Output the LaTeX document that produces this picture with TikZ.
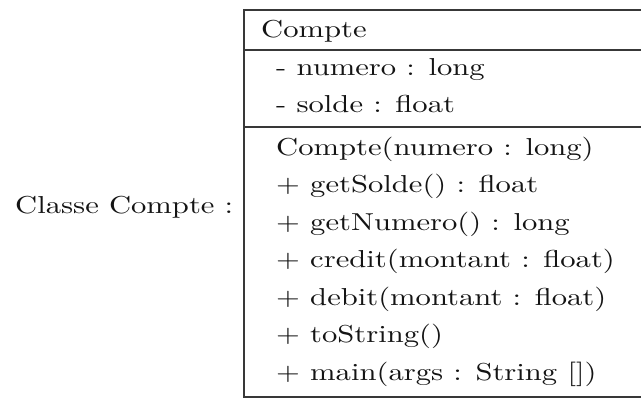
\documentclass[tikz,border=0pt]{standalone}
\usepackage{graphicx}
% Class box of "Compte": header, attributes, methods.
% Text is set in the 10pt design and enlarged (wider than tall).
\newcommand\wide[1]{\scalebox{3.0625}[2.45]{\fontsize{10}{12}\selectfont #1}}
\tikzset{
  rowtext/.style={anchor=base west, inner sep=0pt, text=black!92},
  rule/.style={draw=black!78, line width=1.8pt},
}
\begin{document}
\begin{tikzpicture}[x=1pt, y=-1pt]
  \useasboundingbox (0,0) rectangle (641,399);
  \fill[white] (0,0) rectangle (641,399);

  % frame: left side and horizontal separators (open on the right)
  \draw[rule] (244,10) -- (244,397);
  \draw[rule] (243.1,10) -- (641,10);
  \draw[rule] (244,50) -- (641,50);
  \draw[rule] (244,127) -- (641,127);
  \draw[rule] (243.1,397) -- (641,397);

  % caption on the left
  \node[rowtext] (caption) at (15,213) {\wide{Classe Compte :}};

  % class name
  \node[rowtext] (name) at (261,37) {\wide{Compte}};

  % attributes
  \node[rowtext] (a1) at (276,75)  {\wide{- numero : long}};
  \node[rowtext] (a2) at (276,112) {\wide{- solde : float}};

  % methods
  \node[rowtext] (m1) at (276,155)   {\wide{Compte(numero : long)}};
  \node[rowtext] (m2) at (276,192.5) {\wide{+ getSolde() : float}};
  \node[rowtext] (m3) at (276,230)   {\wide{+ getNumero() : long}};
  \node[rowtext] (m4) at (276,267.5) {\wide{+ credit(montant : float)}};
  \node[rowtext] (m5) at (276,305)   {\wide{+ debit(montant : float)}};
  \node[rowtext] (m6) at (276,342.5) {\wide{+ toString()}};
  \node[rowtext] (m7) at (276,380)   {\wide{+ main(args : String [])}};
\end{tikzpicture}
\end{document}
